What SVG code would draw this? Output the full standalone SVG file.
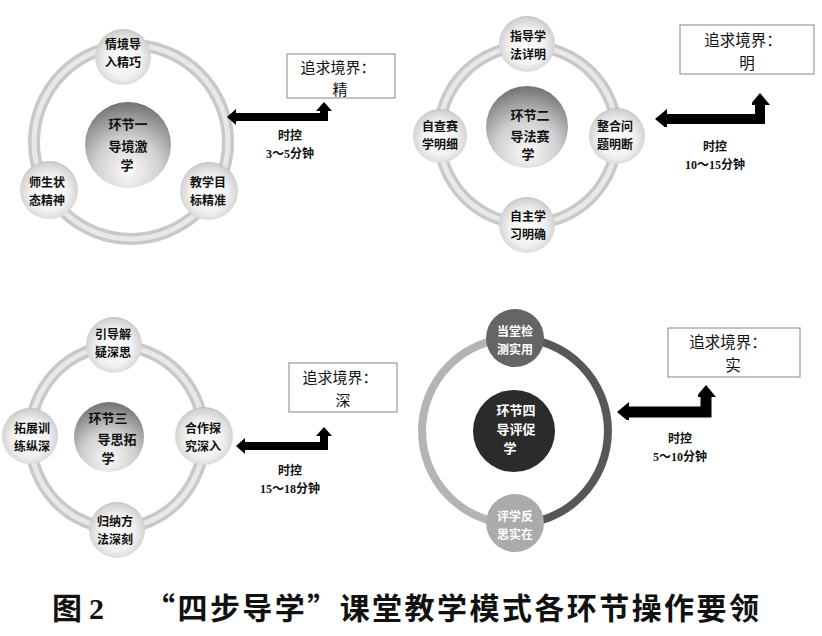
<svg xmlns="http://www.w3.org/2000/svg" width="822" height="636" viewBox="0 0 822 636">
<defs>
<radialGradient id="gSmall" cx="0.5" cy="0.55" r="0.6">
<stop offset="0" stop-color="#ffffff"/>
<stop offset="0.55" stop-color="#f0f0f0"/>
<stop offset="0.85" stop-color="#d2d2d2"/>
<stop offset="1" stop-color="#a8a8a8"/>
</radialGradient>
<radialGradient id="gCenter" cx="0.5" cy="0.8" r="0.85">
<stop offset="0" stop-color="#fafafa"/>
<stop offset="0.45" stop-color="#d0d0d0"/>
<stop offset="1" stop-color="#666666"/>
</radialGradient>
<marker id="hS" markerUnits="userSpaceOnUse" viewBox="0 0 9 16" refX="0" refY="8" markerWidth="9" markerHeight="16" orient="auto-start-reverse">
<path d="M0,0 L9,8 L0,16 z" fill="#000"/>
</marker>
<marker id="hL" markerUnits="userSpaceOnUse" viewBox="0 0 12 20" refX="0" refY="8" markerWidth="12" markerHeight="20" orient="auto-start-reverse">
<path d="M0,-2 L12,8 L0,18 z" fill="#000"/>
</marker>
</defs>
<style>
.ringO{fill:none;stroke:#c8c8c8;stroke-width:12}
.ringI{fill:none;stroke:#e8e8e8;stroke-width:5}
.sm{fill:url(#gSmall)}
.ct{fill:url(#gCenter)}
.nt{font-family:"Noto Sans CJK SC","Noto Sans",sans-serif;font-weight:bold;font-size:12px;fill:#111;text-anchor:middle;dominant-baseline:central}
.ctt{font-family:"Noto Sans CJK SC","Noto Sans",sans-serif;font-weight:bold;font-size:13px;fill:#111;text-anchor:middle;dominant-baseline:central}
.wt{fill:#fff}
.box{fill:#fff;stroke:#9a9a9a;stroke-width:1.2}
.bt{font-family:"Noto Sans CJK SC","Noto Sans",sans-serif;font-size:15px;fill:#111;text-anchor:middle;dominant-baseline:central}
.tt{font-family:"Liberation Serif","Noto Sans CJK SC",serif;font-weight:bold;font-size:12px;fill:#111;text-anchor:middle;dominant-baseline:central}
.arr{fill:none;stroke:#000;stroke-linejoin:miter}
.cap{font-family:"Noto Sans CJK SC","Noto Sans",sans-serif;font-weight:bold;font-size:30px;fill:#111}
</style>
<rect width="822" height="636" fill="#ffffff"/>

<!-- Quadrant 1 -->
<g id="ring1"><circle class="ringO" cx="131" cy="142" r="97"/><circle class="ringI" cx="131" cy="142" r="97"/></g>
<g id="n1-top"><circle class="sm" cx="123" cy="57" r="28"/><text class="nt" x="123" y="43">情境导</text><text class="nt" x="123" y="61">入精巧</text></g>
<g id="n1-left"><circle class="sm" cx="49" cy="190" r="29"/><text class="nt" x="47" y="181">师生状</text><text class="nt" x="47" y="199">态精神</text></g>
<g id="n1-right"><circle class="sm" cx="209" cy="191" r="29"/><text class="nt" x="208" y="181">教学目</text><text class="nt" x="208" y="199">标精准</text></g>
<g id="n1-center"><circle class="ct" cx="128" cy="145" r="43"/><text class="ctt" x="128" y="123">环节一</text><text class="ctt" x="128" y="145">导境激</text><text class="ctt" x="127" y="164">学</text></g>
<g id="box1"><rect class="box" x="287" y="54" width="108" height="44"/><text class="bt" x="338" y="66">追求境界：</text><text class="bt" x="340" y="88">精</text></g>
<g id="time1"><text class="tt" x="290" y="136">时控</text><text class="tt" x="290" y="154">3～5分钟</text></g>

<!-- Quadrant 2 -->
<g id="ring2"><circle class="ringO" cx="528" cy="135" r="89"/><circle class="ringI" cx="528" cy="135" r="89"/></g>
<g id="n2-top"><circle class="sm" cx="527" cy="44" r="28"/><text class="nt" x="528" y="35">指导学</text><text class="nt" x="528" y="53">法详明</text></g>
<g id="n2-left"><circle class="sm" cx="440" cy="136" r="27"/><text class="nt" x="440" y="125">自查赛</text><text class="nt" x="440" y="143">学明细</text></g>
<g id="n2-right"><circle class="sm" cx="617" cy="136" r="28"/><text class="nt" x="615" y="125">整合问</text><text class="nt" x="615" y="143">题明断</text></g>
<g id="n2-bottom"><circle class="sm" cx="527" cy="225" r="28"/><text class="nt" x="528" y="215">自主学</text><text class="nt" x="528" y="233">习明确</text></g>
<g id="n2-center"><circle class="ct" cx="527" cy="127" r="41"/><text class="ctt" x="530" y="114">环节二</text><text class="ctt" x="530" y="135">导法赛</text><text class="ctt" x="528" y="153">学</text></g>
<g id="box2"><rect class="box" x="680" y="25" width="134" height="49"/><text class="bt" style="font-size:15.5px" x="743" y="39">追求境界：</text><text class="bt" style="font-size:15.5px" x="747" y="62">明</text></g>
<g id="time2"><text class="tt" x="715" y="147">时控</text><text class="tt" x="715" y="165">10～15分钟</text></g>

<!-- Quadrant 3 -->
<g id="ring3"><ellipse class="ringO" cx="117" cy="437" rx="87" ry="91"/><ellipse class="ringI" cx="117" cy="437" rx="87" ry="91"/></g>
<g id="n3-top"><circle class="sm" cx="114" cy="345" r="28"/><text class="nt" x="113" y="333">引导解</text><text class="nt" x="113" y="351">疑深思</text></g>
<g id="n3-left"><circle class="sm" cx="30" cy="436" r="28"/><text class="nt" x="32" y="427">拓展训</text><text class="nt" x="32" y="445">练纵深</text></g>
<g id="n3-right"><circle class="sm" cx="204" cy="436" r="29"/><text class="nt" x="203" y="427">合作探</text><text class="nt" x="203" y="445">究深入</text></g>
<g id="n3-bottom"><circle class="sm" cx="117" cy="530" r="28"/><text class="nt" x="115" y="520">归纳方</text><text class="nt" x="115" y="538">法深刻</text></g>
<g id="n3-center"><circle class="ct" cx="109" cy="437" r="35"/><text class="ctt" x="108" y="417">环节三</text><text class="ctt" x="117" y="438">导思拓</text><text class="ctt" x="108" y="457">学</text></g>
<g id="box3"><rect class="box" x="289" y="363" width="108" height="49"/><text class="bt" x="340" y="376">追求境界：</text><text class="bt" x="343" y="399">深</text></g>
<g id="time3"><text class="tt" x="290" y="471">时控</text><text class="tt" x="290" y="489">15～18分钟</text></g>

<!-- Quadrant 4 -->
<g id="ring4">
<path d="M515,338 A93,93 0 0 0 515,524" fill="none" stroke="#b4b4b4" stroke-width="8"/>
<path d="M515,338 A93,93 0 0 1 515,524" fill="none" stroke="#575757" stroke-width="8"/>
</g>
<g id="n4-top"><circle cx="515" cy="338" r="29" fill="#656565"/><text class="nt wt" x="515" y="330">当堂检</text><text class="nt wt" x="515" y="348">测实用</text></g>
<g id="n4-bottom"><circle cx="515" cy="523" r="29" fill="#ababab"/><text class="nt wt" x="515" y="515">评学反</text><text class="nt wt" x="515" y="533">思实在</text></g>
<g id="n4-center"><circle cx="514" cy="431" r="41" fill="#2b2b2b"/><text class="ctt wt" x="516" y="409">环节四</text><text class="ctt wt" x="516" y="428">导评促</text><text class="ctt wt" x="510" y="447">学</text></g>
<g id="box4"><rect class="box" x="668" y="328" width="132" height="49"/><text class="bt" style="font-size:15.5px" x="728" y="341">追求境界：</text><text class="bt" style="font-size:15.5px" x="733" y="364">实</text></g>
<g id="time4"><text class="tt" x="680" y="439">时控</text><text class="tt" x="680" y="457">5～10分钟</text></g>

<!-- Connectors -->
<g id="connectors">
<path class="arr" d="M236,117 H324 V111" stroke-width="8" marker-start="url(#hS)" marker-end="url(#hS)"/>
<path class="arr" d="M667,119 H760 V105" stroke-width="10" marker-start="url(#hL)" marker-end="url(#hL)"/>
<path class="arr" d="M245,446 H324 V436" stroke-width="8" marker-start="url(#hS)" marker-end="url(#hS)"/>
<path class="arr" d="M629,412 H706 V397" stroke-width="11" marker-start="url(#hL)" marker-end="url(#hL)"/>
</g>

<!-- Caption -->
<g id="caption">
<text class="cap" x="52" y="619">图</text>
<text class="cap" x="89" y="619" style="font-family:'Liberation Serif',serif">2</text>
<text class="cap" x="145" y="619" textLength="614" lengthAdjust="spacing">“四步导学”课堂教学模式各环节操作要领</text>
</g>
</svg>
